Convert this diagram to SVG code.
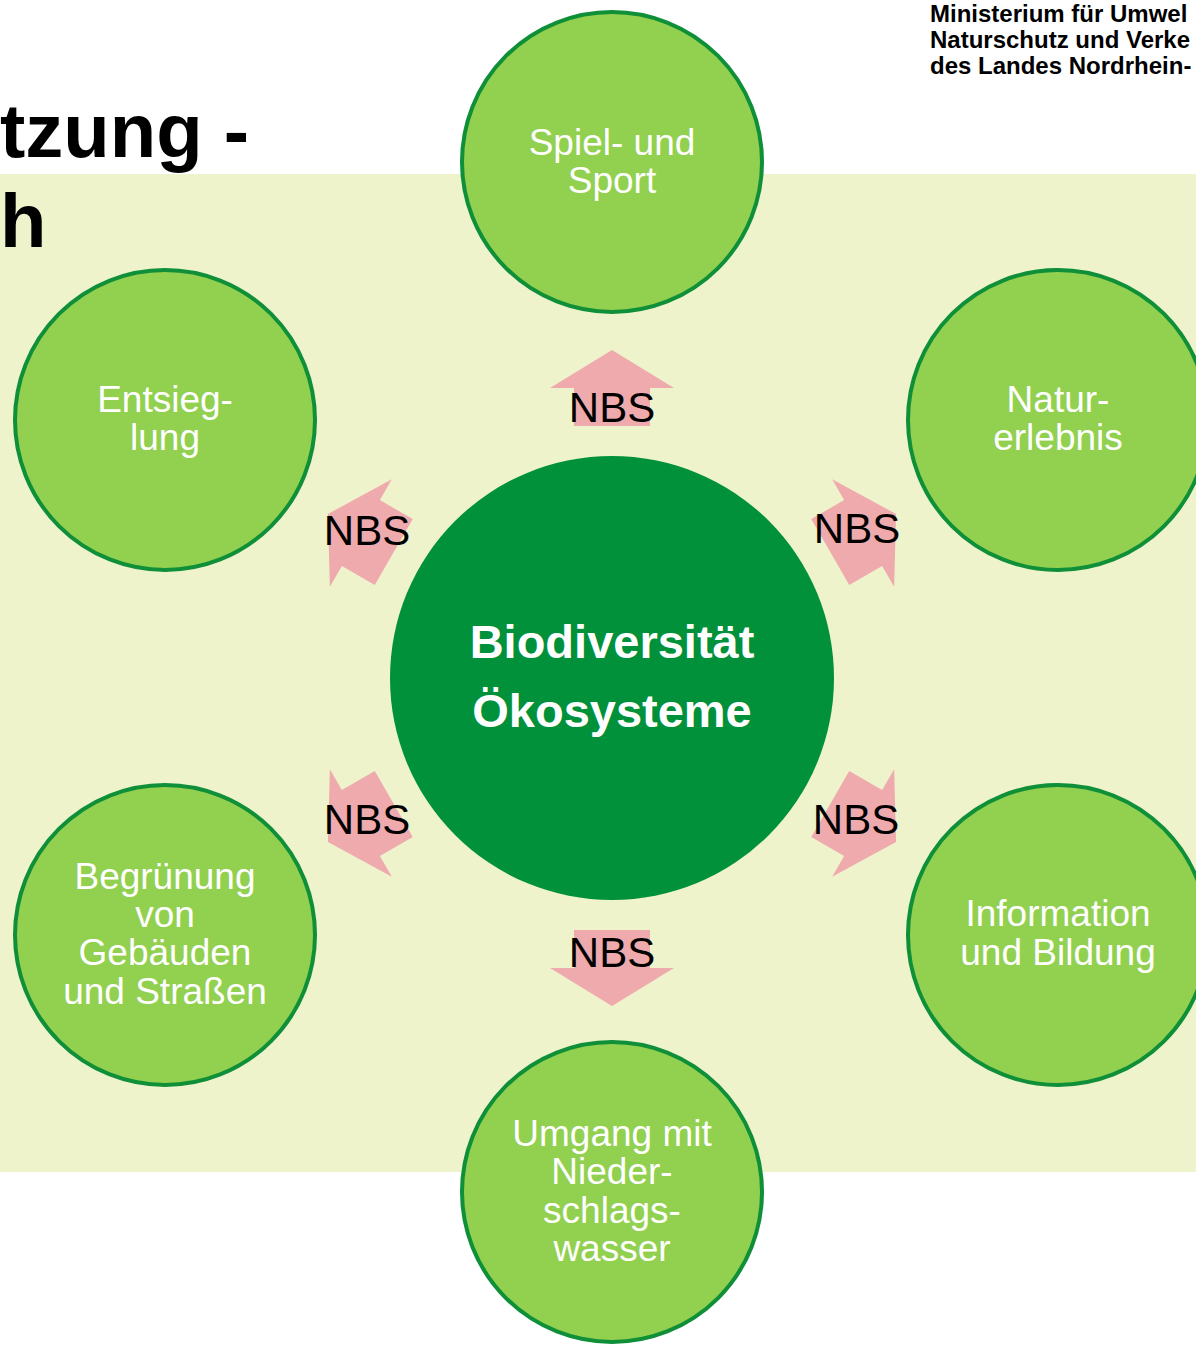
<svg xmlns="http://www.w3.org/2000/svg" width="1196" height="1348" viewBox="0 0 1196 1348">
<defs>
<style>
.sat{fill:#92D050;stroke:#0E8F38;stroke-width:4}
.lbl{font-family:"Liberation Sans",Arial,sans-serif;font-size:37px;fill:#FFFFFF;text-anchor:middle}
.nbs{font-family:"Liberation Sans",Arial,sans-serif;font-size:42px;fill:#000000;text-anchor:middle}
.arr{fill:#EFAAAD}
.title{font-family:"Liberation Sans",Arial,sans-serif;font-size:76px;font-weight:bold;fill:#000000}
.head{font-family:"Liberation Sans",Arial,sans-serif;font-size:24px;font-weight:bold;fill:#000000}
</style>
<polygon id="blk" points="-38,-252 38,-252 38,-290 62,-290 0,-328 -62,-290 -38,-290"/>
</defs>
<rect x="0" y="0" width="1196" height="1348" fill="#FFFFFF"/>
<rect id="panel" x="0" y="174" width="1196" height="998" fill="#EEF3CC"/>
<g id="header">
<text class="head" x="930" y="22">Ministerium für Umwel</text>
<text class="head" x="930" y="48">Naturschutz und Verke</text>
<text class="head" x="930" y="74">des Landes Nordrhein-</text>
</g>
<g id="title">
<text class="title" x="0" y="157">tzung -</text>
<text class="title" x="0" y="247">h</text>
</g>
<g id="connectors">
<use href="#blk" class="arr" transform="translate(612,678)"/>
<use href="#blk" class="arr" transform="translate(612,678) rotate(60)"/>
<use href="#blk" class="arr" transform="translate(612,678) rotate(120)"/>
<use href="#blk" class="arr" transform="translate(612,678) rotate(180)"/>
<use href="#blk" class="arr" transform="translate(612,678) rotate(240)"/>
<use href="#blk" class="arr" transform="translate(612,678) rotate(300)"/>
<text class="nbs" x="612" y="422">NBS</text>
<text class="nbs" x="857" y="543">NBS</text>
<text class="nbs" x="856" y="834">NBS</text>
<text class="nbs" x="612" y="967">NBS</text>
<text class="nbs" x="367" y="834">NBS</text>
<text class="nbs" x="367" y="545">NBS</text>
</g>
<g id="center">
<circle cx="612" cy="678" r="222" fill="#00913A"/>
<text x="612" y="658" font-family="'Liberation Sans',Arial,sans-serif" font-size="47" font-weight="bold" fill="#FFFFFF" text-anchor="middle">Biodiversität</text>
<text x="612" y="727" font-family="'Liberation Sans',Arial,sans-serif" font-size="47" font-weight="bold" fill="#FFFFFF" text-anchor="middle">Ökosysteme</text>
</g>
<g id="spiel">
<circle class="sat" cx="612" cy="162" r="150"/>
<text class="lbl" x="612" y="155">Spiel- und</text>
<text class="lbl" x="612" y="193">Sport</text>
</g>
<g id="natur">
<circle class="sat" cx="1058" cy="420" r="150"/>
<text class="lbl" x="1058" y="412">Natur-</text>
<text class="lbl" x="1058" y="450">erlebnis</text>
</g>
<g id="information">
<circle class="sat" cx="1058" cy="935" r="150"/>
<text class="lbl" x="1058" y="926">Information</text>
<text class="lbl" x="1058" y="965">und Bildung</text>
</g>
<g id="umgang">
<circle class="sat" cx="612" cy="1192" r="150"/>
<text class="lbl" x="612" y="1146">Umgang mit</text>
<text class="lbl" x="612" y="1184">Nieder-</text>
<text class="lbl" x="612" y="1223">schlags-</text>
<text class="lbl" x="612" y="1261">wasser</text>
</g>
<g id="begruenung">
<circle class="sat" cx="165" cy="935" r="150"/>
<text class="lbl" x="165" y="889">Begrünung</text>
<text class="lbl" x="165" y="927">von</text>
<text class="lbl" x="165" y="965">Gebäuden</text>
<text class="lbl" x="165" y="1004">und Straßen</text>
</g>
<g id="entsiegelung">
<circle class="sat" cx="165" cy="420" r="150"/>
<text class="lbl" x="165" y="412">Entsieg-</text>
<text class="lbl" x="165" y="450">lung</text>
</g>
</svg>
